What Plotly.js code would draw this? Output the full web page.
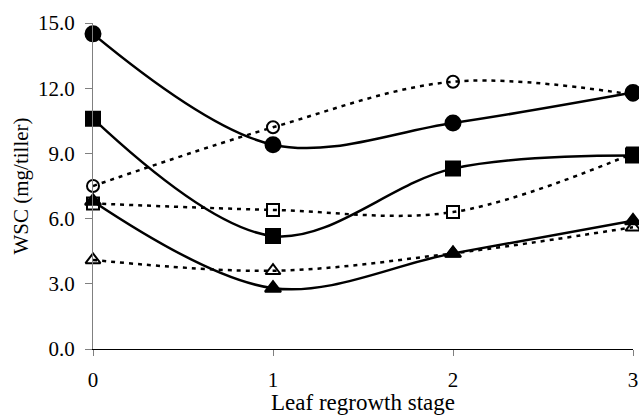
<!DOCTYPE html>
<html><head><meta charset="utf-8">
<script src="https://cdn.plot.ly/plotly-3.0.1.min.js"></script>
<style>html,body{margin:0;padding:0;background:#fff}#c{width:639px;height:415px}
#c text{font-family:'Liberation Serif' !important}</style>
</head><body><div id="c"></div>
<script>
const stages = [0, 1, 2, 3];
const solidCircle = [14.5, 9.4, 10.4, 11.8];
const openCircle = [7.5, 10.2, 12.3, 11.7];
const solidSquare = [10.6, 5.2, 8.3, 8.9];
const openSquare = [6.7, 6.4, 6.3, 9.0];
const solidTriangle = [6.8, 2.8, 4.4, 5.9];
const openTriangle = [4.1, 3.6, 4.4, 5.6];
const yTicks = [0, 3, 6, 9, 12, 15];

function tr(y, sym, dotted, size) {
  return {
    x: stages, y: y, type: 'scatter', mode: 'lines+markers', cliponaxis: false,
    line: {shape: 'spline', smoothing: 1, color: '#000', width: 2.5, dash: dotted ? '4px,5px' : 'solid'},
    marker: {symbol: sym, size: size, color: '#000', line: {color: '#000', width: 2}}
  };
}
const data = [
  tr(openCircle, 'circle-open', true, 12),
  tr(openSquare, 'square-open', true, 12),
  tr(openTriangle, 'triangle-up-open', true, 13),
  tr(solidCircle, 'circle', false, 15),
  tr(solidSquare, 'square', false, 14),
  tr(solidTriangle, 'triangle-up', false, 14)
];
const fam = 'Liberation Serif';
const layout = {
  width: 639, height: 415, showlegend: false,
  margin: {l: 93, r: 6, t: 23, b: 66},
  paper_bgcolor: '#fff', plot_bgcolor: '#fff', font: {family: fam, color: '#000', size: 21},
  xaxis: {range: [0, 3], tickvals: stages, ticktext: stages.map(String), showgrid: false, zeroline: false,
    showline: true, linecolor: '#000', linewidth: 1, ticks: 'outside', ticklen: 6, tickcolor: '#808080',
    ticklabelstandoff: 6,
    tickfont: {family: fam, color: '#000', size: 21},
    title: {text: 'Leaf regrowth stage', font: {family: fam, size: 23, color: '#000'}, standoff: 0}},
  yaxis: {range: [0, 15], tickvals: yTicks, ticktext: yTicks.map(v => v.toFixed(1)), showgrid: false, zeroline: false,
    showline: true, linecolor: '#808080', linewidth: 1, ticks: 'outside', ticklen: 7, tickcolor: '#808080',
    ticklabelstandoff: 6,
    tickfont: {family: fam, color: '#000', size: 21},
    title: {text: 'WSC (mg/tiller)', font: {family: fam, size: 21, color: '#000'}, standoff: 3}}
};
Plotly.newPlot('c', data, layout, {displayModeBar: false, staticPlot: true});
</script></body></html>
